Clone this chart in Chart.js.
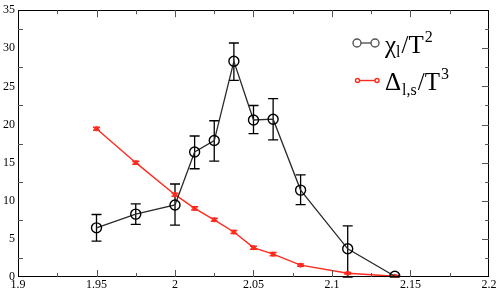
<!DOCTYPE html>
<html><head><meta charset="utf-8">
<script src="https://cdn.jsdelivr.net/npm/chart.js@4"></script>
<style>html,body{margin:0;padding:0;background:#fff}canvas{display:block}</style>
</head><body>
<canvas id="c" width="498" height="291"></canvas>
<script>
const temps   = [1.95, 1.975, 2.0, 2.0125, 2.025, 2.0375, 2.05, 2.0625, 2.08, 2.11, 2.14];
const chi     = [6.45, 8.25, 9.45, 16.4, 17.9, 28.3, 20.6, 20.7, 11.4, 3.7, 0.1];
const chiLo   = [4.7, 6.9, 6.8, 14.2, 15.2, 25.8, 18.8, 18.0, 9.5, 0.0, 0.0];
const chiHi   = [8.2, 9.6, 12.2, 18.5, 20.5, 30.7, 22.5, 23.4, 13.4, 6.7, 0.2];
const delta   = [19.45, 15.0, 10.8, 9.0, 7.5, 5.9, 3.85, 3.0, 1.55, 0.5, 0.1];
const deltaErr= [0.2, 0.2, 0.2, 0.2, 0.2, 0.2, 0.2, 0.2, 0.15, 0.1, 0.05];
const xTicks  = [1.9, 1.95, 2.0, 2.05, 2.1, 2.15, 2.2];
const yTicks  = [0, 5, 10, 15, 20, 25, 30, 35];

const SERIF = "'Liberation Serif', 'DejaVu Serif', serif";
const RED = '#ff2a1e';
const GRAY = '#2a2a2a';

const errorBars = {
  id: 'errorBars',
  beforeDatasetsDraw(chart) {
    const {ctx, scales:{x, y}} = chart;
    ctx.save();
    ctx.strokeStyle = '#000'; ctx.lineWidth = 1.3;
    temps.forEach((t, i) => {
      const px = x.getPixelForValue(t);
      const top = y.getPixelForValue(chiHi[i]);
      const bot = y.getPixelForValue(chiLo[i]);
      ctx.beginPath();
      ctx.moveTo(px, top); ctx.lineTo(px, bot);
      ctx.moveTo(px - 5, top); ctx.lineTo(px + 5, top);
      ctx.moveTo(px - 5, bot); ctx.lineTo(px + 5, bot);
      ctx.stroke();
    });
    ctx.strokeStyle = RED; ctx.lineWidth = 1.5;
    temps.forEach((t, i) => {
      const px = x.getPixelForValue(t);
      const top = y.getPixelForValue(delta[i] + deltaErr[i]);
      const bot = y.getPixelForValue(delta[i] - deltaErr[i]);
      ctx.beginPath();
      ctx.moveTo(px, top); ctx.lineTo(px, bot);
      ctx.moveTo(px - 3.5, top); ctx.lineTo(px + 3.5, top);
      ctx.moveTo(px - 3.5, bot); ctx.lineTo(px + 3.5, bot);
      ctx.stroke();
    });
    ctx.restore();
  },
  afterDraw(chart) {
    const {ctx, chartArea:a, scales:{x, y}} = chart;
    ctx.save();
    ctx.strokeStyle = '#000'; ctx.lineWidth = 1;
    ctx.strokeRect(Math.round(a.left) + 0.5, Math.round(a.top) + 0.5,
                   Math.round(a.right - a.left) - 1, Math.round(a.bottom - a.top) - 1);
    ctx.strokeStyle = '#555';
    ctx.beginPath();
    for (let k = 1; k < 12; k++) {
      const v = xTicks[0] + k * 0.025;
      const px = Math.round(x.getPixelForValue(v)) + 0.5;
      const len = (k % 2 === 0) ? 7 : 4;
      ctx.moveTo(px, a.bottom); ctx.lineTo(px, a.bottom - len);
      ctx.moveTo(px, a.top); ctx.lineTo(px, a.top + len);
    }
    for (let k = 1; k < 14; k++) {
      const v = k * 2.5;
      const py = Math.round(y.getPixelForValue(v)) + 0.5;
      const major = k % 2 === 0;
      const len = major ? 7 : 4;
      if (!major) { ctx.moveTo(a.left, py); ctx.lineTo(a.left + 5, py); }
      ctx.moveTo(a.right, py); ctx.lineTo(a.right - len, py);
    }
    ctx.stroke();

    // legend: sequential rich text
    const rich = (x0, base, list) => {
      let cx = x0;
      ctx.fillStyle = '#000';
      list.forEach(p => {
        ctx.font = p.size + 'px ' + SERIF;
        ctx.fillText(p.t, cx, base + (p.dy || 0));
        cx += ctx.measureText(p.t).width + (p.gap || 0);
      });
    };
    ctx.textBaseline = 'alphabetic';
    ctx.strokeStyle = '#555'; ctx.lineWidth = 1.4;
    ctx.beginPath(); ctx.moveTo(361, 43); ctx.lineTo(371, 43); ctx.stroke();
    ctx.beginPath(); ctx.arc(357, 43, 4, 0, Math.PI * 2); ctx.stroke();
    ctx.beginPath(); ctx.arc(375, 43, 4, 0, Math.PI * 2); ctx.stroke();
    rich(385, 53, [
      {t: 'χ', size: 25, gap: 0},
      {t: 'l', size: 16, dy: 4, gap: 1},
      {t: '/', size: 25, gap: 0},
      {t: 'T', size: 25, gap: 1},
      {t: '2', size: 16, dy: -11}
    ]);
    ctx.strokeStyle = RED; ctx.lineWidth = 1.4;
    ctx.beginPath(); ctx.moveTo(358, 80.5); ctx.lineTo(377, 80.5); ctx.stroke();
    ctx.fillStyle = '#fff';
    ctx.beginPath(); ctx.arc(357.5, 80.5, 2, 0, Math.PI * 2); ctx.fill(); ctx.stroke();
    ctx.beginPath(); ctx.arc(377, 80.5, 2, 0, Math.PI * 2); ctx.fill(); ctx.stroke();
    rich(385, 90, [
      {t: 'Δ', size: 25, gap: 1},
      {t: 'l,s', size: 16, dy: 5, gap: 1},
      {t: '/', size: 25, gap: 0},
      {t: 'T', size: 25, gap: 1},
      {t: '3', size: 16, dy: -11}
    ]);
    ctx.restore();
  }
};

const fmt = v => String(parseFloat(Number(v).toFixed(3)));

new Chart(document.getElementById('c'), {
  type: 'scatter',
  data: {
    datasets: [
      {
        label: 'chi',
        data: temps.map((t, i) => ({x: t, y: chi[i]})),
        showLine: true,
        borderColor: GRAY,
        borderWidth: 1.3,
        pointRadius: 5,
        pointBorderWidth: 1.4,
        pointBorderColor: '#000',
        pointBackgroundColor: 'rgba(0,0,0,0)',
        tension: 0
      },
      {
        label: 'delta',
        data: temps.map((t, i) => ({x: t, y: delta[i]})),
        showLine: true,
        borderColor: RED,
        borderWidth: 1.4,
        pointRadius: 2,
        pointBorderWidth: 1,
        pointBorderColor: RED,
        pointBackgroundColor: RED,
        tension: 0
      }
    ]
  },
  options: {
    responsive: false,
    animation: false,
    devicePixelRatio: 1,
    layout: {padding: {top: 4, right: 9, left: 0, bottom: 0}},
    plugins: {legend: {display: false}, tooltip: {enabled: false}},
    scales: {
      x: {
        type: 'linear', min: 1.9, max: 2.2,
        afterBuildTicks: s => { s.ticks = xTicks.map(v => ({value: v})); },
        afterFit: s => { s.height = 14; },
        grid: {display: false, drawTicks: false},
        border: {display: false},
        ticks: {padding: 1, color: '#000', maxRotation: 0, autoSkip: false,
                font: {family: SERIF, size: 12}, callback: v => fmt(v)}
      },
      y: {
        type: 'linear', min: 0, max: 35,
        afterBuildTicks: s => { s.ticks = yTicks.map(v => ({value: v})); },
        afterFit: s => { s.width = 18; },
        grid: {display: false, drawTicks: false},
        border: {display: false},
        ticks: {padding: 3, color: '#000', autoSkip: false,
                font: {family: SERIF, size: 12}, callback: v => fmt(v)}
      }
    }
  },
  plugins: [errorBars]
});
</script>
</body></html>
